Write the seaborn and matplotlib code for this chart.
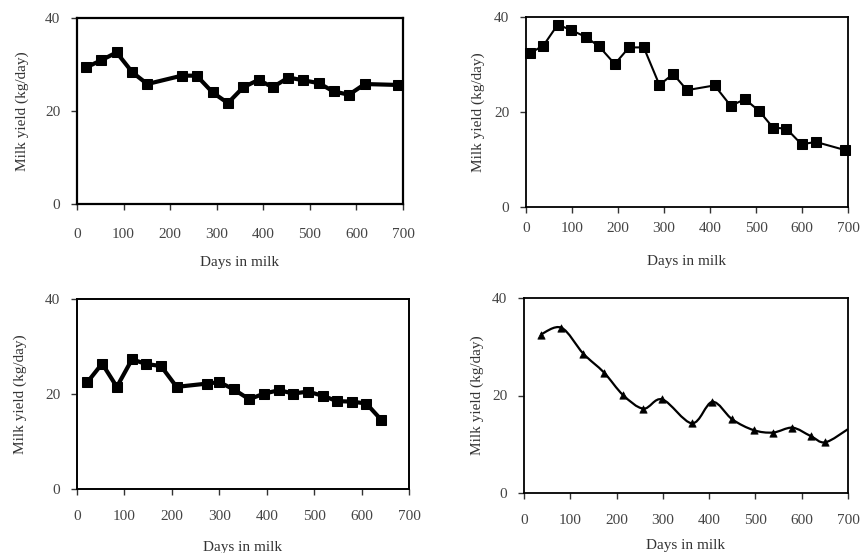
import numpy as np
import pandas as pd
import matplotlib
matplotlib.use("Agg")
import matplotlib.pyplot as plt
from matplotlib.path import Path
from matplotlib.patches import PathPatch
import seaborn as sns

# ---- data ----
days_a = [20, 52, 85, 119, 151, 225, 257, 291, 324, 357, 390, 420, 454, 486, 519, 551, 584, 618, 689]
milk_a = [29.4, 30.9, 32.6, 28.3, 25.8, 27.6, 27.6, 24.0, 21.7, 25.1, 26.7, 25.1, 27.2, 26.6, 26.0, 24.2, 23.5, 25.8, 25.6]

days_b = [9, 38, 69, 97, 130, 159, 193, 224, 256, 290, 320, 350, 410, 445, 476, 507, 537, 566, 599, 630, 693]
milk_b = [32.4, 34.0, 38.4, 37.3, 35.8, 33.8, 30.1, 33.6, 33.6, 25.7, 28.0, 24.6, 25.6, 21.3, 22.7, 20.2, 16.7, 16.5, 13.2, 13.7, 12.0]

days_c = [22, 53, 84, 116, 146, 177, 210, 275, 300, 330, 363, 395, 426, 456, 487, 519, 548, 579, 610, 642]
milk_c = [22.5, 26.4, 21.5, 27.3, 26.3, 25.9, 21.5, 22.2, 22.5, 21.0, 18.9, 20.1, 20.8, 20.1, 20.5, 19.6, 18.5, 18.4, 18.0, 14.5]

days_d = [36, 81, 128, 173, 214, 258, 299, 363, 407, 450, 496, 538, 580, 619, 651, 700]
milk_d = [32.5, 33.9, 28.6, 24.7, 20.1, 17.3, 19.2, 14.3, 18.7, 15.1, 12.9, 12.4, 13.4, 11.7, 10.4, 13.1]

x_ticks = [0, 100, 200, 300, 400, 500, 600, 700]
y_ticks = [0, 20, 40]
x_label = "Days in milk"
y_label = "Milk yield (kg/day)"

sns.set_theme(style="white")
plt.rcParams['font.family'] = ['Liberation Serif', 'DejaVu Serif']

W, H = 866, 553
fig = plt.figure(figsize=(W / 100, H / 100), dpi=100)


def add_ax(l, r, t, b):
    return fig.add_axes([l / W, 1 - b / H, (r - l) / W, (b - t) / H])


def style(ax, box, spine_lw, xpad, xlabelpad, ylab_x):
    l, r, t, b = box
    ax.set_xlim(0, 700)
    ax.set_ylim(0, 40)
    ax.set_xticks(x_ticks)
    ax.set_yticks(y_ticks)
    ax.set_xticklabels([str(v) for v in x_ticks])
    ax.set_yticklabels([str(v) for v in y_ticks])
    ax.tick_params(axis='both', direction='out', length=4, width=1, color='#333333',
                   labelsize=11, labelcolor='#444444', bottom=True, left=True)
    ax.tick_params(axis='x', pad=xpad)
    ax.tick_params(axis='y', pad=8)
    for s in ax.spines.values():
        s.set_visible(True)
        s.set_color('black')
        s.set_linewidth(spine_lw)
    ax.set_xlabel(x_label, fontsize=11, color='#333333', labelpad=xlabelpad)
    ax.set_ylabel(y_label, fontsize=11, color='#333333')
    ax.yaxis.set_label_coords((ylab_x - l) / (r - l), 0.5)
    ax.grid(False)


# Panel A
box1 = (77, 403, 18, 204)
ax1 = add_ax(*box1)
df_a = pd.DataFrame({"days": days_a, "milk": milk_a})
sns.lineplot(data=df_a, x="days", y="milk", ax=ax1, color='black', linewidth=3,
             marker='s', markersize=7.5, markeredgecolor='black', clip_on=False)
style(ax1, box1, 1.6, 13, 11, 29)

# Panel B
box2 = (526, 848, 17, 207)
ax2 = add_ax(*box2)
df_b = pd.DataFrame({"days": days_b, "milk": milk_b})
sns.lineplot(data=df_b, x="days", y="milk", ax=ax2, color='black', linewidth=1.5,
             marker='s', markersize=7, markeredgecolor='black', clip_on=False)
style(ax2, box2, 1.3, 6.5, 15, 485)

# Panel C
box3 = (77, 409, 299, 489)
ax3 = add_ax(*box3)
df_c = pd.DataFrame({"days": days_c, "milk": milk_c})
sns.lineplot(data=df_c, x="days", y="milk", ax=ax3, color='black', linewidth=3,
             marker='s', markersize=6.5, markeredgecolor='black', clip_on=False)
style(ax3, box3, 1.4, 11, 13, 27)

# Panel D (smoothed line with triangle markers)
box4 = (524, 848, 298, 493)
ax4 = add_ax(*box4)
df_d = pd.DataFrame({"days": days_d, "milk": milk_d})
xs = np.asarray(days_d, float)
ys = np.asarray(milk_d, float)
P = np.column_stack([xs, ys])
n = len(P)
verts = [P[0]]
codes = [Path.MOVETO]
for i in range(n - 1):
    p0 = P[i - 1] if i > 0 else P[i]
    p1 = P[i]
    p2 = P[i + 1]
    p3 = P[i + 2] if i + 2 < n else P[i + 1]
    c1 = p1 + (p2 - p0) / 6.0
    c2 = p2 - (p3 - p1) / 6.0
    verts += [c1, c2, p2]
    codes += [Path.CURVE4] * 3
ax4.add_patch(PathPatch(Path(verts, codes), facecolor='none', edgecolor='black', linewidth=1.6))
sns.scatterplot(data=df_d.iloc[:-1], x="days", y="milk", ax=ax4, color='black', marker='^',
                s=28, edgecolor='black', linewidth=0.5)
style(ax4, box4, 1.3, 11, 9, 484)

fig.savefig("out.png", dpi=100)
